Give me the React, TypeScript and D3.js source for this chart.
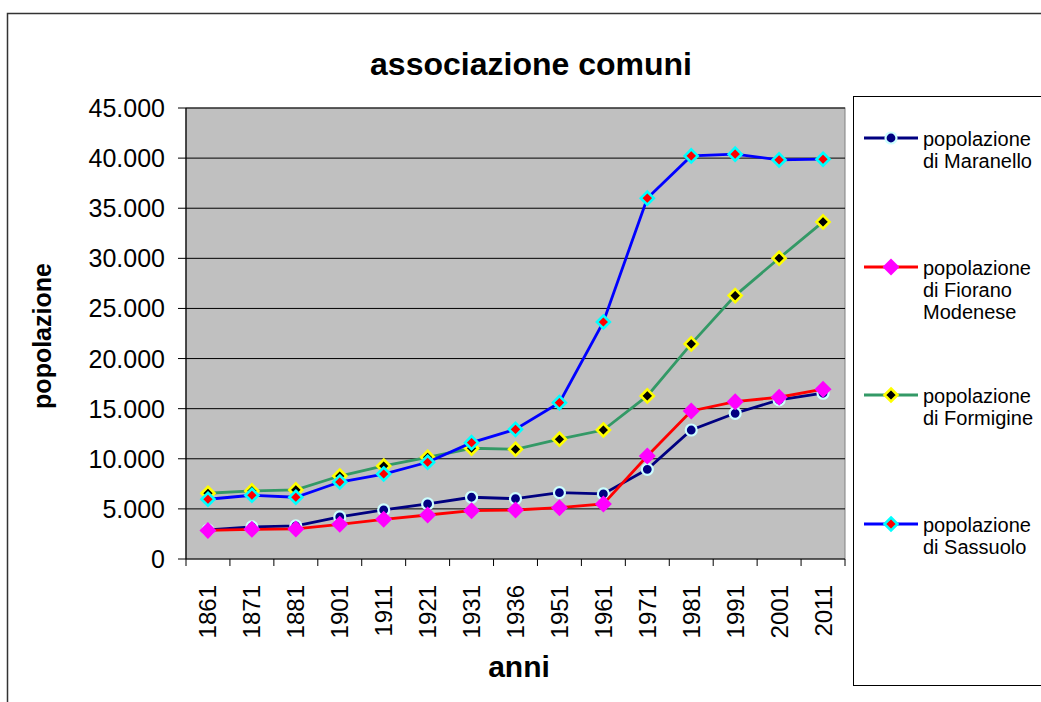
import React from "react";
import * as d3 from "d3";

const years = ["1861","1871","1881","1901","1911","1921","1931","1936","1951","1961","1971","1981","1991","2001","2011"];
const maranello = [2900,3200,3300,4200,4900,5500,6160,6020,6620,6490,8950,12870,14540,15870,16540];
const fiorano = [2850,2960,3000,3460,3960,4390,4820,4890,5120,5490,10280,14770,15700,16140,16940];
const formigine = [6560,6790,6890,8280,9280,10150,11050,10950,11950,12870,16270,21460,26280,30010,33630];
const sassuolo = [5960,6360,6160,7680,8480,9650,11610,12940,15600,23650,36000,40220,40390,39820,39890];
const yTicks = [0,5000,10000,15000,20000,25000,30000,35000,40000,45000];

const series = [
  { name: ["popolazione", "di Maranello"], values: maranello, line: "#000080", marker: "circle", fill: "#000080", stroke: "#CCFFFF" },
  { name: ["popolazione", "di Fiorano", "Modenese"], values: fiorano, line: "#FF0000", marker: "bigdiamond", fill: "#FF00FF", stroke: "none" },
  { name: ["popolazione", "di Formigine"], values: formigine, line: "#339966", marker: "diamond", fill: "#000000", stroke: "#FFFF00" },
  { name: ["popolazione", "di Sassuolo"], values: sassuolo, line: "#0000FF", marker: "diamond", fill: "#FF0000", stroke: "#00FFFF" },
];

const FONT = "'Liberation Sans', Arial, sans-serif";
const locale = d3.formatLocale({ decimal: ",", thousands: ".", grouping: [3], currency: ["", "€"] });
const fmt = locale.format(",");

function Marker({ type, x, y, fill, stroke }: any) {
  if (type === "circle") {
    return <circle cx={x} cy={y} r={5.5} fill={fill} stroke={stroke} strokeWidth={2.2} />;
  }
  if (type === "bigdiamond") {
    const s = 8.5;
    return <path d={`M${x},${y - s}L${x + s},${y}L${x},${y + s}L${x - s},${y}Z`} fill={fill} />;
  }
  const s = 6.5;
  return <path d={`M${x},${y - s}L${x + s},${y}L${x},${y + s}L${x - s},${y}Z`} fill={fill} stroke={stroke} strokeWidth={2.6} />;
}

export default function App() {
  const left = 186, right = 845, top = 108, bottom = 559;
  const x = d3.scaleBand<string>().domain(years).range([left, right]).padding(0);
  const y = d3.scaleLinear().domain([0, 45000]).range([bottom, top]);
  const cx = (yr: string) => (x(yr) as number) + x.bandwidth() / 2;
  const line = d3.line<number>().x((_, i) => cx(years[i])).y((v) => y(v));

  const legendX = 853, legendTop = 96, legendBottom = 685;
  const legendItemY = [138, 267, 395, 524];

  return (
    <svg width={1041} height={702} style={{ position: "absolute", left: 0, top: 0, display: "block" }} fontFamily={FONT}>
      <rect x={0} y={0} width={1041} height={702} fill="#fff" />
      <rect x={7.5} y={13.5} width={1100} height={760} fill="#fff" stroke="#333" strokeWidth={1.5} />
      <text x={531} y={75} textAnchor="middle" fontSize={32} fontWeight="bold">associazione comuni</text>

      <rect x={left} y={top} width={right - left} height={bottom - top} fill="#C0C0C0" stroke="#808080" strokeWidth={1} />
      {yTicks.filter((t) => t > 0).map((t) => (
        <line key={t} x1={left} x2={right} y1={y(t)} y2={y(t)} stroke="#000" strokeWidth={1} />
      ))}
      <line x1={left} x2={left} y1={top} y2={bottom} stroke="#000" strokeWidth={1.2} />
      <line x1={left} x2={right} y1={bottom} y2={bottom} stroke="#000" strokeWidth={1.2} />
      {yTicks.map((t) => (
        <g key={t}>
          <line x1={left - 8} x2={left} y1={y(t)} y2={y(t)} stroke="#000" />
          <text x={165} y={y(t)} dy="0.36em" textAnchor="end" fontSize={25}>{fmt(t)}</text>
        </g>
      ))}
      {years.map((yr) => (
        <line key={"t" + yr} x1={x(yr)} x2={x(yr)} y1={bottom} y2={bottom + 7} stroke="#000" />
      ))}
      <line x1={right} x2={right} y1={bottom} y2={bottom + 7} stroke="#000" />
      {years.map((yr) => (
        <text key={"l" + yr} transform={`translate(${cx(yr) + 8.5},585) rotate(-90)`} textAnchor="end" fontSize={24}>{yr}</text>
      ))}

      <text transform="translate(51,336) rotate(-90)" textAnchor="middle" fontSize={25} fontWeight="bold">popolazione</text>
      <text x={519} y={677} textAnchor="middle" fontSize={30} fontWeight="bold">anni</text>

      {series.map((s, si) => (
        <g key={si}>
          <path d={line(s.values) as string} fill="none" stroke={s.line} strokeWidth={2.8} />
          {s.values.map((v, i) => (
            <Marker key={i} type={s.marker} x={cx(years[i])} y={y(v)} fill={s.fill} stroke={s.stroke} />
          ))}
        </g>
      ))}

      <rect x={legendX + 0.5} y={legendTop + 0.5} width={300} height={legendBottom - legendTop} fill="#fff" stroke="#000" strokeWidth={1} />
      {series.map((s, si) => {
        const ly = legendItemY[si];
        return (
          <g key={"lg" + si}>
            <line x1={864} x2={918} y1={ly} y2={ly} stroke={s.line} strokeWidth={2.8} />
            <Marker type={s.marker} x={891} y={ly} fill={s.fill} stroke={s.stroke} />
            {s.name.map((n, k) => (
              <text key={k} x={923} y={ly + 8 + k * 22} fontSize={20}>{n}</text>
            ))}
          </g>
        );
      })}
    </svg>
  );
}
